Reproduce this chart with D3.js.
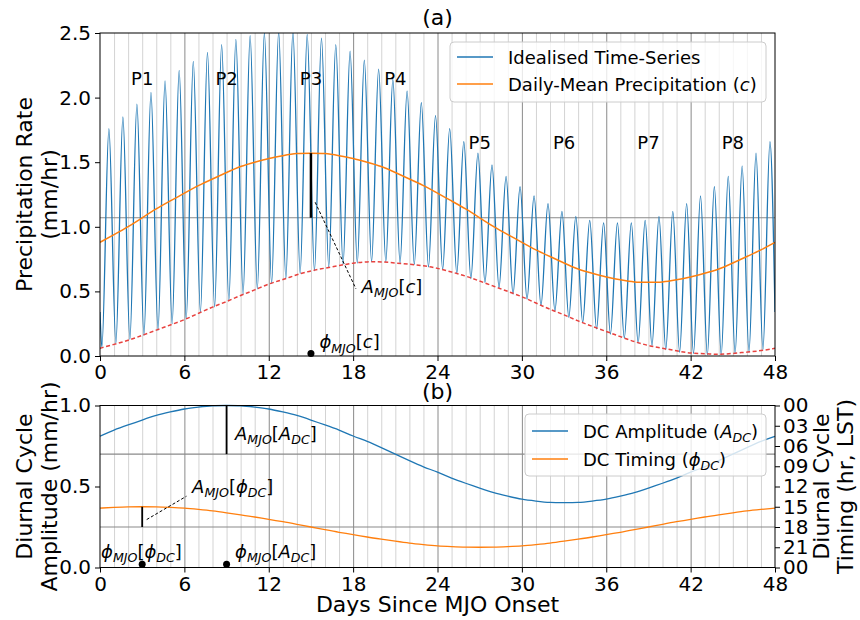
<!DOCTYPE html>
<html>
<head>
<meta charset="utf-8">
<script src="https://cdn.jsdelivr.net/npm/d3@7"></script>
<style>
  body { margin: 0; background: #fff; }
  svg { font-family: "DejaVu Sans", sans-serif; }
</style>
</head>
<body>
<script>
  // ---- data ----
  const days = d3.range(0, 49);

  // daily-mean precipitation c (mm/hr), days 0..48
  const dailyMean = [0.88, 0.94, 1.00, 1.07, 1.14, 1.20, 1.26, 1.32, 1.37, 1.42,
    1.47, 1.50, 1.53, 1.55, 1.57, 1.57, 1.57, 1.55, 1.53, 1.50,
    1.47, 1.42, 1.37, 1.32, 1.26, 1.20, 1.14, 1.07, 1.00, 0.94,
    0.88, 0.82, 0.77, 0.72, 0.67, 0.64, 0.61, 0.59, 0.57, 0.57,
    0.57, 0.59, 0.61, 0.64, 0.67, 0.72, 0.77, 0.82, 0.88];

  // lower envelope (red dashed), days 0..48
  const lowerEnvelope = [0.06, 0.09, 0.12, 0.16, 0.20, 0.24, 0.28, 0.33, 0.38, 0.42,
    0.47, 0.51, 0.56, 0.59, 0.63, 0.66, 0.68, 0.70, 0.72, 0.73,
    0.73, 0.72, 0.71, 0.70, 0.68, 0.65, 0.62, 0.58, 0.54, 0.50,
    0.46, 0.41, 0.36, 0.32, 0.27, 0.23, 0.19, 0.15, 0.11, 0.08,
    0.06, 0.04, 0.02, 0.02, 0.01, 0.02, 0.03, 0.04, 0.06];

  // idealised time-series: daily maximum and minimum, days 0..47
  const dailyPeak = [1.76, 1.85, 1.95, 2.04, 2.13, 2.21, 2.28, 2.35, 2.41, 2.45, 2.48, 2.50,
    2.51, 2.51, 2.49, 2.46, 2.41, 2.36, 2.29, 2.22, 2.14, 2.05, 1.96, 1.86,
    1.76, 1.66, 1.57, 1.48, 1.39, 1.31, 1.24, 1.18, 1.12, 1.08, 1.05, 1.03,
    1.03, 1.03, 1.05, 1.08, 1.12, 1.18, 1.24, 1.31, 1.39, 1.47, 1.57, 1.66];
  const dailyTrough = [0.07, 0.10, 0.13, 0.16, 0.20, 0.25, 0.29, 0.34, 0.38, 0.43, 0.48, 0.52,
    0.56, 0.60, 0.64, 0.66, 0.69, 0.71, 0.72, 0.73, 0.73, 0.72, 0.71, 0.69,
    0.67, 0.64, 0.60, 0.57, 0.53, 0.48, 0.44, 0.39, 0.35, 0.30, 0.26, 0.21,
    0.17, 0.14, 0.10, 0.08, 0.05, 0.03, 0.02, 0.01, 0.01, 0.02, 0.03, 0.05];
  const seriesEnds = [0.34, 0.34]; // value at day 0 and day 48

  // diurnal cycle amplitude (mm/hr) and timing (hour LST), days 0..48
  const dcAmplitude = [0.81, 0.85, 0.88, 0.91, 0.94, 0.96, 0.98, 0.99, 1.00, 1.00,
    1.00, 0.99, 0.98, 0.96, 0.94, 0.91, 0.88, 0.85, 0.81, 0.78,
    0.74, 0.70, 0.66, 0.62, 0.59, 0.55, 0.52, 0.49, 0.46, 0.44,
    0.42, 0.41, 0.40, 0.40, 0.40, 0.41, 0.42, 0.44, 0.46, 0.49,
    0.52, 0.55, 0.59, 0.62, 0.66, 0.70, 0.74, 0.78, 0.81];
  const dcTiming = [15.2, 15.1, 15.0, 15.0, 15.0, 15.1, 15.2, 15.4, 15.6, 15.9,
    16.2, 16.5, 16.9, 17.2, 17.6, 18.0, 18.4, 18.8, 19.1, 19.5,
    19.8, 20.1, 20.4, 20.6, 20.8, 20.9, 21.0, 21.0, 21.0, 20.9,
    20.8, 20.6, 20.4, 20.1, 19.8, 19.5, 19.1, 18.8, 18.4, 18.0,
    17.6, 17.2, 16.9, 16.5, 16.2, 15.9, 15.6, 15.4, 15.2];

  const meanPrecip = 1.07;
  const meanAmp = 0.7;
  const meanTiming = 18;
  const mjoPeakDay = { c: 15, amp: 9, timing: 3 };

  const phaseNames = ['P1', 'P2', 'P3', 'P4', 'P5', 'P6', 'P7', 'P8'];
  const phaseCentre = [3, 9, 15, 21, 27, 33, 39, 45];
  const phaseLabelY = [2.1, 2.1, 2.1, 2.1, 1.6, 1.6, 1.6, 1.6];

  const xTicks = [0, 6, 12, 18, 24, 30, 36, 42, 48];
  const yTicksA = [0, 0.5, 1.0, 1.5, 2.0, 2.5];
  const yTicksB = [0, 0.5, 1.0];
  const timingTicks = [0, 3, 6, 9, 12, 15, 18, 21, 24];

  const blue = '#1f77b4', orange = '#ff7f0e', red = '#e8423f';
  const minorGrey = '#d3d3d3', majorGrey = '#8a8a8a';

  // ---- layout ----
  const W = 860, H = 620;
  const left = 100, right = 775;
  const aTop = 33, aBot = 356;
  const bTop = 405.5, bBot = 567.5;

  const svg = d3.select('body').append('svg')
    .attr('width', W)
    .attr('height', H);

  const x = d3.scaleLinear().domain([0, 48]).range([left, right]);
  const yA = d3.scaleLinear().domain([0, 2.5]).range([aBot, aTop]);
  const yB = d3.scaleLinear().domain([0, 1]).range([bBot, bTop]);
  const yT = d3.scaleLinear().domain([24, 0]).range([bBot, bTop]);

  const minorDays = days.filter(d => d % 6 !== 0);
  const majorDays = xTicks.slice(1, -1);

  // mathtext-like label: parts = [[text, flags]] flags: i italic, s subscript
  function mathText(g, px, py, parts, size, anchor) {
    const t = g.append('text')
      .attr('x', px).attr('y', py)
      .attr('font-size', size)
      .attr('text-anchor', anchor || 'start')
      .attr('fill', '#000');
    let down = false;
    const shift = size * 0.24;
    parts.forEach(p => {
      const s = t.append('tspan').text(p[0]);
      const f = p[1] || '';
      if (f.includes('i')) s.attr('font-style', 'italic');
      if (f.includes('s')) {
        s.attr('font-size', size * 0.7);
        if (!down) { s.attr('dy', shift); down = true; }
      } else if (down) {
        s.attr('dy', -shift); down = false;
      }
    });
    return t;
  }

  // vertical grid for a panel
  function grid(top, bot) {
    const g = svg.append('g').attr('transform', `translate(0,${bot})`);
    g.append('g')
      .call(d3.axisBottom(x).tickValues(minorDays).tickSize(-(bot - top)).tickFormat(''))
      .call(s => s.select('.domain').remove())
      .selectAll('line').attr('stroke', minorGrey).attr('stroke-width', 1);
    g.append('g')
      .call(d3.axisBottom(x).tickValues(majorDays).tickSize(-(bot - top)).tickFormat(''))
      .call(s => s.select('.domain').remove())
      .selectAll('line').attr('stroke', majorGrey).attr('stroke-width', 1);
  }

  function hline(yv, color) {
    svg.append('line')
      .attr('x1', left).attr('x2', right)
      .attr('y1', yv).attr('y2', yv)
      .attr('stroke', color).attr('stroke-width', 1.2);
  }

  function styleAxis(g) {
    g.attr('font-size', 20).attr('font-family', '"DejaVu Sans", sans-serif');
    g.select('.domain').remove();
  }

  // smooth daily curve through one of the arrays
  function dailyLine(yScale, values) {
    return d3.line()
      .x(d => x(d))
      .y(d => yScale(values[d]))
      .curve(d3.curveBasis);
  }

  // ===========================================================================
  // panel (a)
  // ===========================================================================
  grid(aTop, aBot);
  hline(yA(meanPrecip), majorGrey);

  svg.append('clipPath').attr('id', 'clipA')
    .append('rect').attr('x', left).attr('y', aTop)
    .attr('width', right - left).attr('height', aBot - aTop);

  const tsPoints = [[0, seriesEnds[0]]];
  for (let d = 0; d < dailyPeak.length; d++) {
    const tPeak = d + dcTiming[d] / 24;
    tsPoints.push([tPeak - 0.5, dailyTrough[d]]);
    tsPoints.push([tPeak, dailyPeak[d]]);
  }
  tsPoints.push([48, seriesEnds[1]]);

  const lineXY = d3.line()
    .x(p => x(p[0]))
    .y(p => yA(p[1]))
    .curve(d3.curveMonotoneX);

  const plotA = svg.append('g').attr('clip-path', 'url(#clipA)');

  plotA.append('path')
    .datum(tsPoints)
    .attr('d', lineXY)
    .attr('fill', 'none')
    .attr('stroke', blue)
    .attr('stroke-width', 1.3);

  plotA.append('path')
    .datum(days)
    .attr('d', dailyLine(yA, dailyMean))
    .attr('fill', 'none')
    .attr('stroke', orange)
    .attr('stroke-width', 1.5);

  plotA.append('path')
    .datum(days)
    .attr('d', dailyLine(yA, lowerEnvelope))
    .attr('fill', 'none')
    .attr('stroke', red)
    .attr('stroke-width', 1.5)
    .attr('stroke-dasharray', '4,2.5');

  // phase labels
  svg.append('g').selectAll('text')
    .data(phaseNames)
    .enter()
    .append('text')
    .attr('x', (d, i) => x(phaseCentre[i]))
    .attr('y', (d, i) => yA(phaseLabelY[i]))
    .attr('text-anchor', 'middle')
    .attr('font-size', 18)
    .text(d => d);

  // A_MJO[c] annotation
  svg.append('line')
    .attr('x1', x(mjoPeakDay.c)).attr('x2', x(mjoPeakDay.c))
    .attr('y1', yA(meanPrecip)).attr('y2', yA(dailyMean[mjoPeakDay.c]))
    .attr('stroke', '#000').attr('stroke-width', 2.5);
  svg.append('line')
    .attr('x1', x(15.3)).attr('y1', yA(1.19))
    .attr('x2', x(18.2)).attr('y2', yA(0.52))
    .attr('stroke', '#000').attr('stroke-width', 1).attr('stroke-dasharray', '3,2');
  mathText(svg, x(18.6), yA(0.49), [['A', 'i'], ['MJO', 'is'], ['['], ['c', 'i'], [']']], 18);

  svg.append('circle')
    .attr('cx', x(mjoPeakDay.c)).attr('cy', yA(0.02)).attr('r', 3.5).attr('fill', '#000');
  mathText(svg, x(15.6), yA(0.06), [['\u03d5', 'i'], ['MJO', 'is'], ['['], ['c', 'i'], [']']], 18);

  // axes (a)
  svg.append('g')
    .attr('transform', `translate(0,${aBot})`)
    .call(d3.axisBottom(x).tickValues(xTicks).tickSize(5).tickPadding(4))
    .call(styleAxis);
  svg.append('g')
    .attr('transform', `translate(${left},0)`)
    .call(d3.axisLeft(yA).tickValues(yTicksA).tickFormat(d3.format('.1f')).tickSize(5).tickPadding(4))
    .call(styleAxis);
  svg.append('rect')
    .attr('x', left).attr('y', aTop)
    .attr('width', right - left).attr('height', aBot - aTop)
    .attr('fill', 'none').attr('stroke', '#000').attr('stroke-width', 1);

  // legend (a)
  const legA = svg.append('g');
  legA.append('rect')
    .attr('x', 450).attr('y', 42).attr('width', 316).attr('height', 60).attr('rx', 4)
    .attr('fill', '#fff').attr('fill-opacity', 0.8).attr('stroke', '#cccccc');
  legA.append('line').attr('x1', 457).attr('x2', 493).attr('y1', 57).attr('y2', 57)
    .attr('stroke', blue).attr('stroke-width', 1.5);
  legA.append('line').attr('x1', 457).attr('x2', 493).attr('y1', 84).attr('y2', 84)
    .attr('stroke', orange).attr('stroke-width', 1.5);
  mathText(legA, 508, 63.5, [['Idealised Time-Series']], 18);
  mathText(legA, 508, 90.5, [['Daily-Mean Precipitation ('], ['c', 'i'], [')']], 18);

  // titles
  svg.append('text').attr('x', (left + right) / 2).attr('y', 25)
    .attr('text-anchor', 'middle').attr('font-size', 22).text('(a)');
  svg.append('text').attr('x', (left + right) / 2).attr('y', 399)
    .attr('text-anchor', 'middle').attr('font-size', 22).text('(b)');

  // y label (a)
  const labA = svg.append('text')
    .attr('transform', `translate(0,${(aTop + aBot) / 2}) rotate(-90)`)
    .attr('text-anchor', 'middle').attr('font-size', 22);
  labA.append('tspan').attr('x', 0).attr('y', 32).text('Precipitation Rate');
  labA.append('tspan').attr('x', 0).attr('y', 57).text('(mm/hr)');

  // ===========================================================================
  // panel (b)
  // ===========================================================================
  grid(bTop, bBot);
  hline(yB(meanAmp), majorGrey);
  hline(yT(meanTiming), majorGrey);

  svg.append('path')
    .datum(days)
    .attr('d', dailyLine(yB, dcAmplitude))
    .attr('fill', 'none')
    .attr('stroke', blue)
    .attr('stroke-width', 1.3);

  svg.append('path')
    .datum(days)
    .attr('d', dailyLine(yT, dcTiming))
    .attr('fill', 'none')
    .attr('stroke', orange)
    .attr('stroke-width', 1.3);

  // annotations (b)
  svg.append('line')
    .attr('x1', x(mjoPeakDay.amp)).attr('x2', x(mjoPeakDay.amp))
    .attr('y1', yB(meanAmp)).attr('y2', yB(dcAmplitude[mjoPeakDay.amp]))
    .attr('stroke', '#000').attr('stroke-width', 1.8);
  mathText(svg, x(9.6), yB(0.79), [['A', 'i'], ['MJO', 'is'], ['['], ['A', 'i'], ['DC', 'is'], [']']], 18);

  svg.append('line')
    .attr('x1', x(mjoPeakDay.timing)).attr('x2', x(mjoPeakDay.timing))
    .attr('y1', yT(meanTiming)).attr('y2', yT(dcTiming[mjoPeakDay.timing]))
    .attr('stroke', '#000').attr('stroke-width', 1.8);
  svg.append('line')
    .attr('x1', x(3.32)).attr('y1', yB(0.296))
    .attr('x2', x(6.15)).attr('y2', yB(0.44))
    .attr('stroke', '#000').attr('stroke-width', 1).attr('stroke-dasharray', '3,2');
  mathText(svg, x(6.55), yB(0.46), [['A', 'i'], ['MJO', 'is'], ['['], ['\u03d5', 'i'], ['DC', 'is'], [']']], 18);

  [mjoPeakDay.timing, mjoPeakDay.amp].forEach(d => {
    svg.append('circle').attr('cx', x(d)).attr('cy', yB(0.02)).attr('r', 3.5).attr('fill', '#000');
  });
  mathText(svg, x(2.95), yB(0.06), [['\u03d5', 'i'], ['MJO', 'is'], ['['], ['\u03d5', 'i'], ['DC', 'is'], [']']], 18, 'middle');
  mathText(svg, x(9.6), yB(0.06), [['\u03d5', 'i'], ['MJO', 'is'], ['['], ['A', 'i'], ['DC', 'is'], [']']], 18);

  // axes (b)
  svg.append('g')
    .attr('transform', `translate(0,${bBot})`)
    .call(d3.axisBottom(x).tickValues(xTicks).tickSize(5).tickPadding(4))
    .call(styleAxis);
  svg.append('g')
    .attr('transform', `translate(${left},0)`)
    .call(d3.axisLeft(yB).tickValues(yTicksB).tickFormat(d3.format('.1f')).tickSize(5).tickPadding(4))
    .call(styleAxis);
  svg.append('g')
    .attr('transform', `translate(${right},0)`)
    .call(d3.axisRight(yT).tickValues(timingTicks)
      .tickFormat(h => String(h % 24).padStart(2, '0')).tickSize(5).tickPadding(3))
    .call(styleAxis);
  svg.append('rect')
    .attr('x', left).attr('y', bTop)
    .attr('width', right - left).attr('height', bBot - bTop)
    .attr('fill', 'none').attr('stroke', '#000').attr('stroke-width', 1);

  // legend (b)
  const legB = svg.append('g');
  legB.append('rect')
    .attr('x', 525).attr('y', 414).attr('width', 241).attr('height', 62).attr('rx', 4)
    .attr('fill', '#fff').attr('fill-opacity', 0.8).attr('stroke', '#cccccc');
  legB.append('line').attr('x1', 532).attr('x2', 568).attr('y1', 431).attr('y2', 431)
    .attr('stroke', blue).attr('stroke-width', 1.5);
  legB.append('line').attr('x1', 532).attr('x2', 568).attr('y1', 459).attr('y2', 459)
    .attr('stroke', orange).attr('stroke-width', 1.5);
  mathText(legB, 583, 437.5, [['DC Amplitude ('], ['A', 'i'], ['DC', 'is'], [')']], 18);
  mathText(legB, 583, 465.5, [['DC Timing ('], ['\u03d5', 'i'], ['DC', 'is'], [')']], 18);

  // y labels (b)
  const labB = svg.append('text')
    .attr('transform', `translate(0,${(bTop + bBot) / 2}) rotate(-90)`)
    .attr('text-anchor', 'middle').attr('font-size', 22);
  labB.append('tspan').attr('x', 0).attr('y', 32).text('Diurnal Cycle');
  labB.append('tspan').attr('x', 0).attr('y', 57).text('Amplitude (mm/hr)');

  const labR = svg.append('text')
    .attr('transform', `translate(0,${(bTop + bBot) / 2}) rotate(-90)`)
    .attr('text-anchor', 'middle').attr('font-size', 22);
  labR.append('tspan').attr('x', 0).attr('y', 829).text('Diurnal Cycle');
  labR.append('tspan').attr('x', 0).attr('y', 853).text('Timing (hr, LST)');

  // x label
  svg.append('text')
    .attr('x', (left + right) / 2).attr('y', 612)
    .attr('text-anchor', 'middle').attr('font-size', 22)
    .text('Days Since MJO Onset');
</script>
</body>
</html>
